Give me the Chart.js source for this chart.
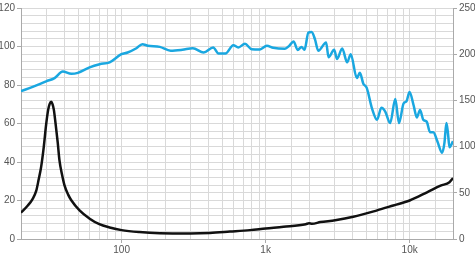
<!DOCTYPE html>
<html><head><meta charset="utf-8">
<script src="https://cdn.jsdelivr.net/npm/chart.js@4"></script>
<style>html,body{margin:0;padding:0;background:#fff}#wrap{width:475px;height:253px}</style>
</head><body><div id="wrap"><canvas id="c" width="475" height="253"></canvas></div>
<script>
// Frequency response (dB, left axis)
const splFreq = [20,24.1,29.9,34.2,39,44.7,49.6,59.9,70.3,82.5,99.5,110,126.6,139.3,152,184,219,264,312,371,432,470,526,596,646,718,800,913,1019,1129,1362,1461,1562,1669,1776,1861,1980,2085,2201,2320,2630,2734,2990,3135,3400,3680,3900,4297,4513,4766,5035,5476,5935,6360,6770,7320,7950,8430,9070,9510,9980,10640,11220,11800,12450,13130,13850,14600,15570,16830,17440,18000,18450,18900,20000];
const splDb = [76.8,79,81.9,83.6,87,85.8,86.3,89.2,90.8,91.8,96,96.9,99.1,101.2,100.4,99.8,97.8,98.3,99.1,96.9,99.5,96.4,96.4,100.7,99.5,101.4,98.6,98.5,100.4,99.3,98.8,100.4,102.6,98.2,99.8,98.3,107.2,107.5,103.7,97.8,102.1,94.4,98.3,93.5,99,91.8,96,83.6,86.3,80.7,78.5,67.8,61.9,68.2,66.2,60.2,72.7,60.2,70.4,71.6,76.4,69.6,63.1,67,61.9,61,55.5,55.5,50.8,44.8,49.9,60.2,55,47.7,50.8];
// Impedance (ohm, right axis)
const impFreq = [20,22.3,24,25.5,26.5,27.6,28.8,29.9,30.9,31.6,32.4,33.1,33.8,34.7,36,37,38.5,40.1,42.5,44.7,51,60,70,82.5,100,133,184,300,410,565,778,1000,1330,1900,2000,2100,2400,3040,4060,5940,7700,10000,13200,16400,18900,20000];
const impOhm = [28.5,36.3,43,52,64,78,100,124,140,146,148.5,146,140,126,104,85,70,58,48,42,31,22,16,12.5,9.6,7.5,6.3,6.0,6.5,8,9.6,11.4,13.2,16,17,16.5,18.3,20.3,24,31,36.3,41.7,50.5,57.7,61.5,66];
// Axis tick labels
const xTickLabels = {100:'100',1000:'1k',10000:'10k'};
const leftLabelStep = 20;

const FONT = {family:"'Liberation Sans Narrow','Liberation Sans',Arial,sans-serif", size:10};
const TXT = '#555';
const GRID = '#d9d9d9';
const AXIS = '#aaaaaa';

new Chart(document.getElementById('c'), {
  type:'line',
  data:{datasets:[
    {label:'SPL', data:splFreq.map((f,i)=>({x:f,y:splDb[i]})), yAxisID:'y',
     borderColor:'#1aa7e0', borderWidth:2.5, pointRadius:0, cubicInterpolationMode:'monotone', fill:false},
    {label:'Impedance', data:impFreq.map((f,i)=>({x:f,y:impOhm[i]})), yAxisID:'y2',
     borderColor:'#111', borderWidth:2.5, pointRadius:0, cubicInterpolationMode:'monotone', fill:false}
  ]},
  options:{
    responsive:false, animation:false, devicePixelRatio:1,
    layout:{padding:{top:5,left:0,right:0,bottom:0}},
    plugins:{legend:{display:false}, tooltip:{enabled:false}},
    scales:{
      x:{type:'logarithmic', min:20, max:20000, position:'bottom',
        afterFit:s=>{s.height=14;},
        border:{color:AXIS},
        grid:{color:GRID, tickLength:4, tickColor:c=> xTickLabels[c.tick && c.tick.value] ? AXIS : 'rgba(0,0,0,0)'},
        ticks:{autoSkip:false, maxRotation:0, padding:1, color:TXT, font:FONT,
          callback:v=> xTickLabels[v] || ''}},
      y:{type:'linear', min:0, max:120, position:'left',
        afterFit:s=>{s.width=21;},
        border:{color:AXIS},
        grid:{color:GRID, tickLength:4, tickColor:c=> (c.tick && c.tick.value%leftLabelStep===0) ? AXIS : 'rgba(0,0,0,0)'},
        ticks:{stepSize:4, padding:2, color:TXT, font:FONT, autoSkip:false,
          callback:v=> v%leftLabelStep===0 ? String(v) : ''}},
      y2:{type:'linear', min:0, max:250, position:'right',
        afterFit:s=>{s.width=22;},
        border:{color:AXIS},
        grid:{drawOnChartArea:false, tickLength:4, tickColor:AXIS},
        ticks:{stepSize:50, padding:2, color:TXT, font:FONT}}
    }
  }
});
</script></body></html>
